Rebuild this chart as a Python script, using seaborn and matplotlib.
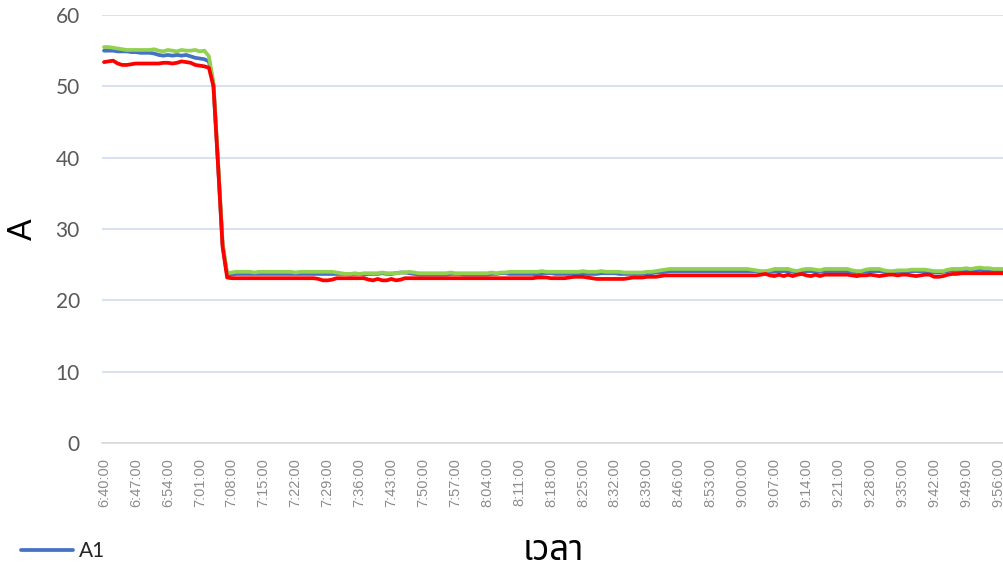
import numpy as np
import pandas as pd
import matplotlib
matplotlib.use("Agg")
import matplotlib.pyplot as plt
from matplotlib import font_manager as fm
from matplotlib.ft2font import FT2Font
from matplotlib.lines import Line2D
import seaborn as sns

# ---------------- data (one value per minute from 6:40) ----------------
tick_labels = ["6:40:00", "6:47:00", "6:54:00", "7:01:00", "7:08:00", "7:15:00", "7:22:00",
               "7:29:00", "7:36:00", "7:43:00", "7:50:00", "7:57:00", "8:04:00", "8:11:00",
               "8:18:00", "8:25:00", "8:32:00", "8:39:00", "8:46:00", "8:53:00", "9:00:00",
               "9:07:00", "9:14:00", "9:21:00", "9:28:00", "9:35:00", "9:42:00", "9:49:00",
               "9:56:00"]

A1 = [55.0, 55.0, 55.0, 54.9, 54.9, 54.9, 54.8, 54.8, 54.7, 54.7,
      54.7, 54.6, 54.4, 54.3, 54.4, 54.3, 54.4, 54.3, 54.4, 54.2,
      54.0, 53.9, 53.8, 53.5, 50.2, 39.2, 27.8, 23.5, 23.6, 23.7,
      23.7, 23.7, 23.7, 23.7, 23.7, 23.7, 23.7, 23.7, 23.7, 23.7,
      23.7, 23.7, 23.7, 23.7, 23.7, 23.7, 23.7, 23.7, 23.7, 23.7,
      23.7, 23.7, 23.7, 23.7, 23.6, 23.7, 23.7, 23.6, 23.7, 23.7,
      23.7, 23.8, 23.7, 23.7, 23.8, 23.9, 23.9, 23.8, 23.7, 23.6,
      23.6, 23.6, 23.6, 23.6, 23.6, 23.6, 23.7, 23.7, 23.7, 23.6,
      23.6, 23.6, 23.6, 23.6, 23.6, 23.7, 23.7, 23.8, 23.8, 23.7,
      23.7, 23.7, 23.7, 23.7, 23.7, 23.6, 23.7, 23.8, 23.8, 23.7,
      23.7, 23.7, 23.7, 23.8, 23.8, 23.8, 23.7, 23.7, 23.7, 23.8,
      23.8, 23.8, 23.8, 23.7, 23.7, 23.7, 23.7, 23.7, 23.7, 23.8,
      23.8, 23.9, 23.9, 24.0, 24.1, 24.1, 24.1, 24.1, 24.1, 24.1,
      24.1, 24.1, 24.1, 24.1, 24.1, 24.1, 24.1, 24.1, 24.1, 24.1,
      24.1, 24.1, 24.1, 24.1, 24.0, 23.9, 24.0, 24.0, 24.1, 24.1,
      24.1, 24.0, 23.9, 24.0, 24.1, 24.1, 24.0, 24.0, 24.1, 24.1,
      24.1, 24.1, 24.1, 24.1, 24.0, 23.9, 24.0, 24.0, 24.1, 24.1,
      24.1, 24.0, 23.9, 23.9, 24.0, 24.0, 24.0, 24.1, 24.1, 24.1,
      24.1, 24.0, 23.9, 23.9, 24.0, 24.1, 24.2, 24.2, 24.2, 24.2,
      24.2, 24.2, 24.3, 24.2, 24.2, 24.2, 24.2, 24.2, 24.2]

A2 = [55.5, 55.5, 55.4, 55.3, 55.2, 55.1, 55.1, 55.1, 55.1, 55.1,
      55.1, 55.2, 55.0, 54.9, 55.1, 55.0, 54.9, 55.1, 55.0, 55.0,
      55.1, 54.9, 55.0, 54.2, 50.5, 39.5, 28.0, 23.8, 23.9, 24.0,
      24.0, 24.0, 24.0, 23.9, 24.0, 24.0, 24.0, 24.0, 24.0, 24.0,
      24.0, 24.0, 23.9, 24.0, 24.0, 24.0, 24.0, 24.0, 24.0, 24.0,
      24.0, 23.9, 23.8, 23.7, 23.7, 23.8, 23.7, 23.8, 23.8, 23.8,
      23.8, 23.9, 23.8, 23.8, 23.8, 23.9, 23.9, 24.0, 23.9, 23.8,
      23.8, 23.8, 23.8, 23.8, 23.8, 23.8, 23.9, 23.8, 23.8, 23.8,
      23.8, 23.8, 23.8, 23.8, 23.8, 23.9, 23.8, 23.9, 23.9, 24.0,
      24.0, 24.0, 24.0, 24.0, 24.0, 24.0, 24.1, 24.0, 24.0, 24.0,
      24.0, 24.0, 24.0, 24.0, 24.0, 24.1, 24.0, 24.0, 24.0, 24.1,
      24.0, 24.0, 24.0, 24.0, 23.9, 23.9, 23.9, 23.9, 23.9, 24.0,
      24.0, 24.1, 24.2, 24.3, 24.4, 24.4, 24.4, 24.4, 24.4, 24.4,
      24.4, 24.4, 24.4, 24.4, 24.4, 24.4, 24.4, 24.4, 24.4, 24.4,
      24.4, 24.4, 24.3, 24.2, 24.1, 24.1, 24.2, 24.4, 24.4, 24.4,
      24.4, 24.2, 24.1, 24.3, 24.4, 24.4, 24.3, 24.2, 24.4, 24.4,
      24.4, 24.4, 24.4, 24.4, 24.2, 24.1, 24.1, 24.3, 24.4, 24.4,
      24.4, 24.2, 24.1, 24.1, 24.2, 24.2, 24.2, 24.3, 24.3, 24.3,
      24.3, 24.2, 24.1, 24.1, 24.1, 24.3, 24.4, 24.4, 24.4, 24.5,
      24.4, 24.5, 24.6, 24.5, 24.5, 24.4, 24.4, 24.4, 24.4]

A3 = [53.4, 53.5, 53.6, 53.2, 53.0, 53.0, 53.1, 53.2, 53.2, 53.2,
      53.2, 53.2, 53.2, 53.3, 53.3, 53.2, 53.3, 53.5, 53.4, 53.3,
      53.0, 52.9, 52.8, 52.6, 50.0, 39.0, 27.5, 23.2, 23.1, 23.1,
      23.1, 23.1, 23.1, 23.1, 23.1, 23.1, 23.1, 23.1, 23.1, 23.1,
      23.1, 23.1, 23.1, 23.1, 23.1, 23.1, 23.1, 23.0, 22.8, 22.8,
      22.9, 23.1, 23.1, 23.1, 23.1, 23.1, 23.1, 23.1, 22.9, 22.8,
      23.0, 22.8, 22.8, 23.0, 22.8, 22.9, 23.1, 23.1, 23.1, 23.1,
      23.1, 23.1, 23.1, 23.1, 23.1, 23.1, 23.1, 23.1, 23.1, 23.1,
      23.1, 23.1, 23.1, 23.1, 23.1, 23.1, 23.1, 23.1, 23.1, 23.1,
      23.1, 23.1, 23.1, 23.1, 23.1, 23.2, 23.2, 23.2, 23.1, 23.1,
      23.1, 23.1, 23.2, 23.3, 23.3, 23.3, 23.2, 23.1, 23.0, 23.0,
      23.0, 23.0, 23.0, 23.0, 23.0, 23.1, 23.2, 23.2, 23.2, 23.3,
      23.3, 23.3, 23.4, 23.5, 23.5, 23.5, 23.5, 23.5, 23.5, 23.5,
      23.5, 23.5, 23.5, 23.5, 23.5, 23.5, 23.5, 23.5, 23.5, 23.5,
      23.5, 23.5, 23.5, 23.5, 23.6, 23.7, 23.5, 23.4, 23.6, 23.4,
      23.6, 23.4, 23.6, 23.7, 23.5, 23.4, 23.6, 23.4, 23.6, 23.6,
      23.6, 23.6, 23.6, 23.6, 23.5, 23.4, 23.5, 23.5, 23.6, 23.5,
      23.4, 23.5, 23.6, 23.6, 23.5, 23.6, 23.6, 23.5, 23.4, 23.5,
      23.6, 23.6, 23.3, 23.3, 23.4, 23.6, 23.7, 23.7, 23.8, 23.8,
      23.8, 23.8, 23.8, 23.8, 23.8, 23.8, 23.8, 23.8, 23.8]

series_names = ["A1", "A2", "A3"]
series_colors = ["#4472C4", "#92D050", "#FF0000"]
y_ticks = [0, 10, 20, 30, 40, 50, 60]
x_title = "เวลา"
y_title = "A"
tick_step = 7

# ---------------- fonts ----------------
sns.set_theme(style="white")


def find_font_with(ch, preferred=()):
    code = ord(ch)
    cands = []
    for f in fm.fontManager.ttflist:
        try:
            ft = FT2Font(f.fname)
            if ft.get_char_index(code):
                cands.append(f.name)
        except Exception:
            pass
    for p in preferred:
        if p in cands:
            return p
    return cands[0] if cands else None


thai_font = find_font_with("ว", preferred=("Noto Sans Thai", "Noto Sans Thai UI",
                                          "Noto Sans Thai Looped", "Tahoma",
                                          "Leelawadee UI", "Loma", "Garuda"))
plt.rcParams["font.family"] = ["Lato", "DejaVu Sans"]

# ---------------- figure ----------------
W, H = 1004, 572
fig = plt.figure(figsize=(W / 100, H / 100), dpi=100)
x_left, x_right = 102, 1004
y_top, y_bot = 15, 443
ax = fig.add_axes([x_left / W, 1 - y_bot / H, (x_right - x_left) / W, (y_bot - y_top) / H])

n = len(A1)
minutes = np.arange(n)
df = pd.DataFrame({
    "minute": np.concatenate([minutes] * 3),
    "value": np.concatenate([A1, A2, A3]),
    "series": np.repeat(series_names, n),
})

lw = 2.7
sns.lineplot(data=df, x="minute", y="value", hue="series", hue_order=series_names,
             palette=dict(zip(series_names, series_colors)), linewidth=lw,
             ax=ax, legend=False)
for ln in ax.get_lines():
    ln.set_solid_capstyle("round")
    ln.set_solid_joinstyle("round")

# scale: minute 0 at x=104, minute 196 at x=998
px_per_min = (998 - 104) / 196
ax.set_xlim(-(104 - x_left) / px_per_min, 196 + (x_right - 998) / px_per_min)
ax.set_ylim(0, 60)

tick_pos = np.arange(0, tick_step * len(tick_labels), tick_step)
ax.set_xticks(tick_pos)
ax.set_xticklabels(tick_labels, rotation=90, fontsize=10.5, color="#8C8C8C",
                   family=["Liberation Sans", "DejaVu Sans"])
ax.set_yticks(y_ticks)
ax.set_yticklabels([str(v) for v in y_ticks], fontsize=15, color="#595959")
ax.tick_params(axis="x", length=0, pad=11)
ax.tick_params(axis="y", length=0, pad=16)

ax.grid(axis="y", color="#CED8EC", linewidth=1.1)
ax.grid(axis="x", visible=False)
ax.set_axisbelow(True)
for s in ["top", "right", "left"]:
    ax.spines[s].set_visible(False)
ax.spines["bottom"].set_color("#D9D9D9")
ax.spines["bottom"].set_linewidth(1.2)
ax.set_xlabel("")
ax.set_ylabel("")

# axis titles
fig.text(23 / W, 1 - 229 / H, y_title, rotation=90, ha="center", va="center",
         fontsize=23, color="black")
thai_family = [thai_font, "DejaVu Sans"] if thai_font else ["DejaVu Sans"]
fig.text(553 / W, 1 - 551 / H, x_title, ha="center", va="center",
         fontsize=25, color="black", family=thai_family)

# legend (only A1 visible in reference)
handle = Line2D([], [], color=series_colors[0], linewidth=lw)
fig.legend([handle], [series_names[0]], loc="center left",
           bbox_to_anchor=(21 / W, 1 - 551 / H), frameon=False, fontsize=15,
           handlelength=2.5, handletextpad=0.3, borderaxespad=0, borderpad=0,
           labelcolor="#262626")

fig.savefig("out.png", dpi=100)
